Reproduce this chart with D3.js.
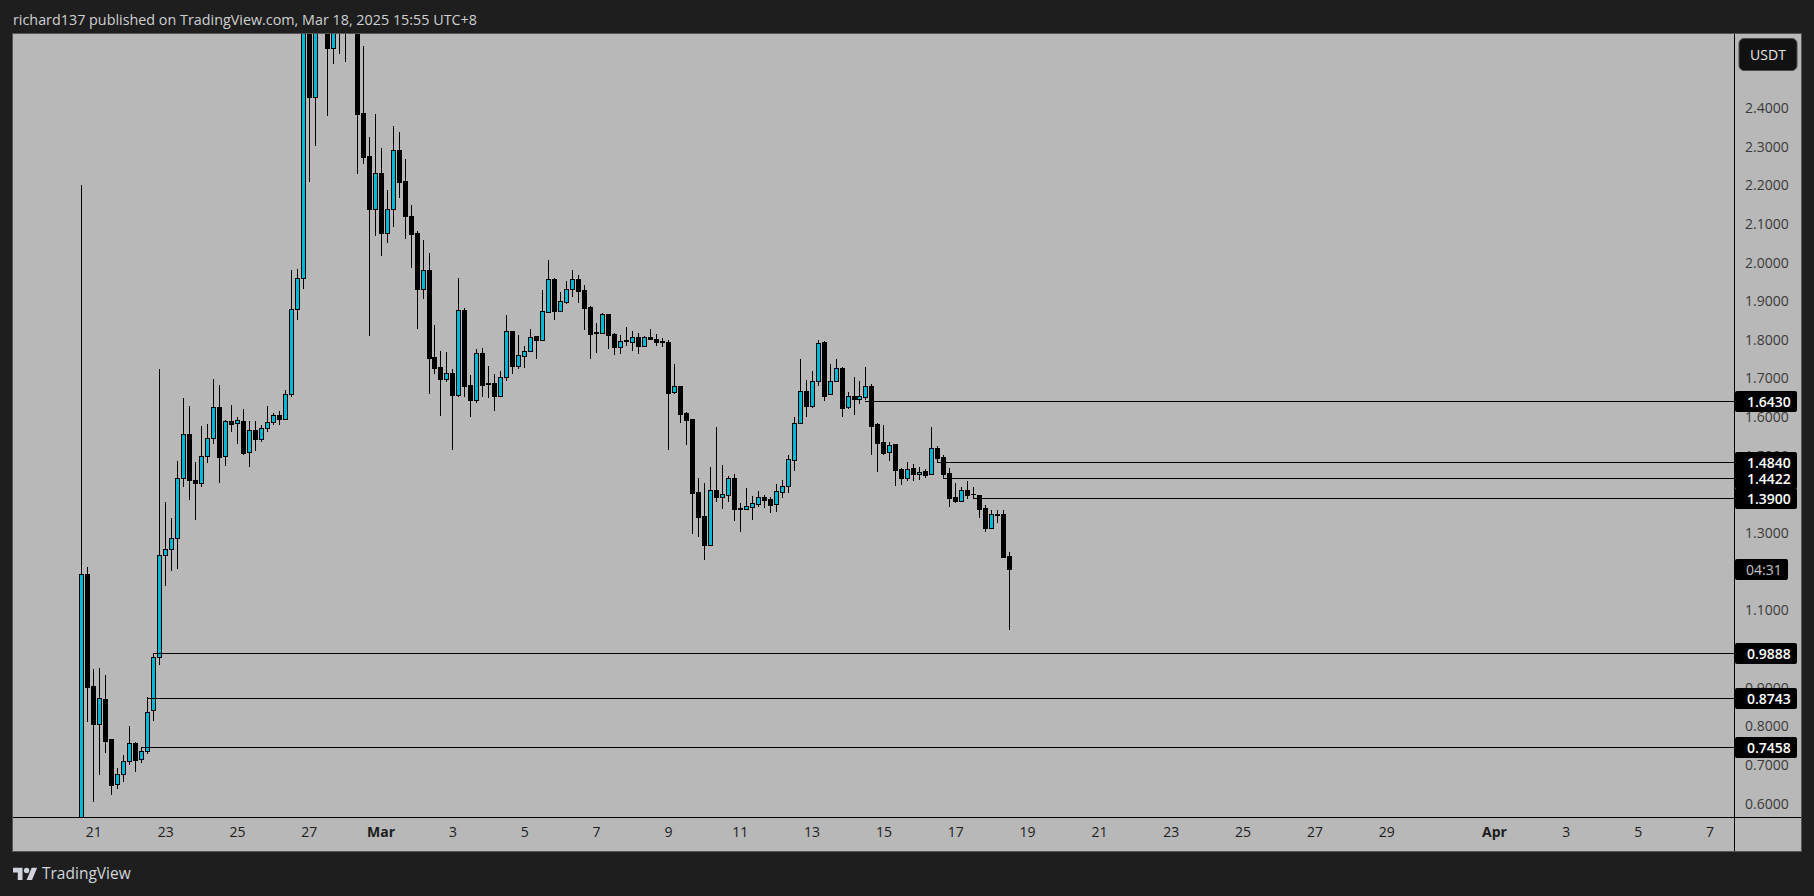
<!DOCTYPE html>
<html>
<head>
<meta charset="utf-8">
<script src="https://cdn.jsdelivr.net/npm/d3@7"></script>
<style>
  html, body { margin: 0; padding: 0; background: #1e1e1e; overflow: hidden; }
  text { font-family: "Open Sans", "Noto Sans", sans-serif; }
</style>
</head>
<body>
<div id="canvas"></div>
<script>
// 4h candles, first one opens Feb 20 16:00
const firstBar = Date.UTC(2025, 1, 20, 16);
const opens = [
  0.500,1.194,0.904,0.807,0.871,0.767,0.650,0.676,0.710,0.757,
  0.715,0.735,0.841,0.979,1.243,1.258,1.287,1.442,1.556,1.437,
  1.429,1.499,1.545,1.625,1.499,1.589,1.584,1.589,1.509,1.566,
  1.543,1.571,1.587,1.605,1.594,1.659,1.879,1.959,2.850,2.429,
  2.750,2.720,2.556,2.680,2.600,2.640,2.640,2.387,2.276,2.139,
  2.231,2.077,2.138,2.290,2.210,2.120,2.076,1.932,1.980,1.755,
  1.729,1.700,1.713,1.658,1.876,1.682,1.645,1.765,1.688,1.688,
  1.656,1.703,1.822,1.733,1.759,1.770,1.809,1.800,1.871,1.957,
  1.875,1.899,1.932,1.957,1.928,1.885,1.820,1.819,1.866,1.815,
  1.782,1.800,1.795,1.807,1.785,1.807,1.801,1.797,1.794,1.664,
  1.680,1.610,1.594,1.406,1.343,1.270,1.411,1.394,1.399,1.443,
  1.365,1.363,1.368,1.376,1.393,1.387,1.374,1.407,1.421,1.490,
  1.584,1.667,1.630,1.693,1.794,1.659,1.693,1.726,1.626,1.654,
  1.648,1.653,1.680,1.582,1.535,1.511,1.531,1.466,1.443,1.468,
  1.454,1.460,1.452,1.520,1.497,1.455,1.393,1.384,1.411,1.401,
  1.398,1.365,1.314,1.350,1.350,1.240
];
const highs = [
  2.201,1.212,0.948,0.951,0.933,0.767,0.692,0.726,0.801,0.760,
  0.746,0.875,0.989,1.724,1.381,1.338,1.487,1.650,1.629,1.484,
  1.577,1.582,1.699,1.683,1.593,1.631,1.600,1.621,1.589,1.589,
  1.579,1.629,1.610,1.615,1.670,1.981,1.983,2.900,2.950,2.720,
  2.950,2.750,2.680,2.700,2.660,2.700,2.660,2.560,2.325,2.384,
  2.296,2.188,2.353,2.338,2.268,2.148,2.082,2.058,2.025,1.838,
  1.770,1.769,1.724,1.960,1.882,1.709,1.776,1.779,1.732,1.712,
  1.719,1.864,1.823,1.813,1.783,1.828,1.809,1.929,2.007,1.959,
  1.924,1.952,1.981,1.967,1.941,1.888,1.844,1.870,1.867,1.817,
  1.812,1.833,1.823,1.818,1.810,1.828,1.815,1.804,1.799,1.738,
  1.680,1.613,1.594,1.443,1.430,1.471,1.574,1.476,1.447,1.453,
  1.377,1.417,1.396,1.409,1.398,1.393,1.427,1.437,1.502,1.600,
  1.750,1.696,1.719,1.800,1.796,1.738,1.750,1.729,1.665,1.704,
  1.694,1.730,1.686,1.584,1.580,1.535,1.531,1.468,1.483,1.479,
  1.471,1.465,1.574,1.525,1.502,1.468,1.430,1.419,1.435,1.419,
  1.399,1.372,1.359,1.360,1.359,1.251
];
const lows = [
  0.500,0.811,0.605,0.674,0.732,0.622,0.638,0.657,0.701,0.683,
  0.706,0.729,0.814,0.959,1.164,1.203,1.208,1.418,1.386,1.334,
  1.418,1.481,1.530,1.430,1.474,1.562,1.531,1.502,1.471,1.512,
  1.536,1.562,1.580,1.580,1.594,1.653,1.851,1.932,2.208,2.302,
  2.620,2.379,2.515,2.540,2.520,2.600,2.230,2.255,1.811,2.069,
  2.018,2.050,2.092,2.167,2.061,1.986,1.828,1.906,1.661,1.712,
  1.603,1.691,1.515,1.653,1.653,1.601,1.637,1.653,1.650,1.617,
  1.651,1.694,1.712,1.725,1.727,1.770,1.750,1.798,1.871,1.851,
  1.872,1.894,1.911,1.895,1.826,1.751,1.766,1.815,1.777,1.761,
  1.763,1.784,1.771,1.763,1.782,1.801,1.785,1.782,1.515,1.660,
  1.585,1.528,1.298,1.290,1.230,1.270,1.380,1.362,1.380,1.331,
  1.303,1.363,1.334,1.368,1.365,1.352,1.355,1.391,1.405,1.461,
  1.584,1.600,1.624,1.681,1.642,1.659,1.693,1.600,1.621,1.606,
  1.634,1.644,1.502,1.458,1.502,1.486,1.422,1.425,1.435,1.435,
  1.437,1.443,1.452,1.483,1.442,1.368,1.378,1.381,1.389,1.390,
  1.339,1.303,1.314,1.327,1.236,1.050
];
const closes = [
  1.194,0.903,0.807,0.873,0.763,0.649,0.676,0.710,0.756,0.713,
  0.735,0.838,0.979,1.243,1.258,1.287,1.442,1.556,1.437,1.429,
  1.499,1.545,1.625,1.498,1.589,1.583,1.592,1.508,1.566,1.544,
  1.571,1.587,1.605,1.594,1.659,1.879,1.959,2.850,2.429,2.650,
  2.650,2.556,2.650,2.620,2.640,2.660,2.385,2.274,2.139,2.231,
  2.077,2.138,2.290,2.209,2.121,2.075,1.932,1.980,1.754,1.728,
  1.700,1.713,1.657,1.876,1.681,1.645,1.765,1.684,1.687,1.656,
  1.703,1.822,1.733,1.760,1.770,1.808,1.800,1.874,1.957,1.875,
  1.900,1.932,1.957,1.927,1.882,1.816,1.819,1.866,1.813,1.782,
  1.798,1.798,1.807,1.784,1.807,1.801,1.795,1.795,1.663,1.680,
  1.609,1.593,1.405,1.342,1.270,1.411,1.394,1.400,1.442,1.362,
  1.363,1.369,1.377,1.393,1.386,1.373,1.408,1.421,1.491,1.584,
  1.667,1.630,1.693,1.791,1.656,1.693,1.726,1.624,1.654,1.648,
  1.654,1.680,1.578,1.533,1.507,1.527,1.463,1.443,1.465,1.454,
  1.459,1.450,1.519,1.494,1.454,1.392,1.383,1.411,1.399,1.400,
  1.362,1.313,1.349,1.348,1.238,1.208
];

// drawn levels: price and the bar each line starts from
const levelPrices = [1.6430, 1.4840, 1.4422, 1.3900, 0.9888, 0.8743, 0.7458];
const levelStartBars = [131, 143, 144, 149, 12, 11, 10];

// 1.0, 1.2 and 1.4 sit fully under the tags in the picture, so they are left out
const priceTicks = [0.6, 0.7, 0.8, 0.9, 1.1, 1.3, 1.5, 1.6, 1.7, 1.8, 1.9, 2.0, 2.1, 2.2, 2.3, 2.4];

const timeTickDates = [
  "2025-02-21", "2025-02-23", "2025-02-25", "2025-02-27", "2025-03-01", "2025-03-03", "2025-03-05", "2025-03-07",
  "2025-03-09", "2025-03-11", "2025-03-13", "2025-03-15", "2025-03-17", "2025-03-19", "2025-03-21", "2025-03-23",
  "2025-03-25", "2025-03-27", "2025-03-29", "2025-04-01", "2025-04-03", "2025-04-05", "2025-04-07"
];
const timeTickLabels = [
  "21", "23", "25", "27", "Mar", "3", "5", "7", "9", "11", "13", "15", "17", "19", "21", "23", "25", "27", "29",
  "Apr", "3", "5", "7"
];

const titleText = "richard137 published on TradingView.com, Mar 18, 2025 15:55 UTC+8";
const countdownText = "04:31";

const width = 1814, height = 896;
const plotLeft = 13, plotTop = 34, plotRight = 1734, plotBottom = 817, frameRight = 1801, frameBottom = 851;
const paneColor = "#b8b8b8", upColor = "#00b8d4";

const svg = d3.select("#canvas")
    .append("svg")
    .attr("width", width)
    .attr("height", height)
    .style("display", "block");

const barTime = i => new Date(firstBar + i * 4 * 3600 * 1000);

const x = d3.scaleUtc()
    .domain([new Date("2025-02-21T00:00Z"), new Date("2025-04-07T00:00Z")])
    .range([93.3, 1709.5]);

const y = d3.scaleLinear()
    .domain([2.5914, 0.5654])
    .range([plotTop, plotBottom]);

// pane and frame
svg.append("rect")
    .attr("x", plotLeft - 0.5)
    .attr("y", plotTop - 0.5)
    .attr("width", frameRight - plotLeft + 1)
    .attr("height", frameBottom - plotTop + 1)
    .attr("fill", paneColor)
    .attr("stroke", "#555555")
    .attr("stroke-width", 1);

svg.append("defs").append("clipPath")
    .attr("id", "plot-clip")
    .append("rect")
    .attr("x", plotLeft)
    .attr("y", plotTop)
    .attr("width", plotRight - plotLeft)
    .attr("height", plotBottom - plotTop);

const plot = svg.append("g")
    .attr("clip-path", "url(#plot-clip)")
    .attr("shape-rendering", "crispEdges");

// candles
const bars = d3.range(closes.length);

plot.selectAll(".wick")
    .data(bars)
    .join("rect")
    .attr("class", "wick")
    .attr("x", i => Math.round(x(barTime(i))))
    .attr("y", i => Math.round(y(highs[i])))
    .attr("width", 1)
    .attr("height", i => Math.max(1, Math.round(y(lows[i])) - Math.round(y(highs[i]))))
    .attr("fill", "#000");

const bodyTop = i => Math.round(y(Math.max(opens[i], closes[i])));
const bodyHeight = i => Math.round(y(Math.min(opens[i], closes[i]))) - bodyTop(i);

plot.selectAll(".body")
    .data(bars)
    .join("rect")
    .attr("class", "body")
    .attr("x", i => Math.round(x(barTime(i))) - 2)
    .attr("y", bodyTop)
    .attr("width", 5)
    .attr("height", i => Math.max(1, bodyHeight(i) + 1))
    .attr("fill", "#000");

plot.selectAll(".fill")
    .data(bars.filter(i => closes[i] > opens[i] && bodyHeight(i) >= 2))
    .join("rect")
    .attr("class", "fill")
    .attr("x", i => Math.round(x(barTime(i))) - 1)
    .attr("y", i => bodyTop(i) + 1)
    .attr("width", 3)
    .attr("height", i => bodyHeight(i) - 1)
    .attr("fill", upColor);

// level lines
plot.selectAll(".level")
    .data(levelPrices)
    .join("line")
    .attr("class", "level")
    .attr("x1", (d, i) => x(barTime(levelStartBars[i])))
    .attr("x2", plotRight)
    .attr("y1", d => Math.round(y(d)) + 0.5)
    .attr("y2", d => Math.round(y(d)) + 0.5)
    .attr("stroke", "#000")
    .attr("stroke-width", 1);

// price axis
const priceAxis = svg.append("g")
    .attr("transform", `translate(${plotRight},0)`)
    .call(d3.axisRight(y)
        .tickValues(priceTicks)
        .tickFormat(d3.format(".4f"))
        .tickSize(0)
        .tickPadding(11));

priceAxis.select(".domain").remove();
priceAxis.selectAll("text")
    .attr("fill", "#3a3a3a")
    .style("font-size", "14px");

// time axis
const timeAxis = svg.append("g")
    .attr("transform", `translate(0,${plotBottom})`)
    .call(d3.axisBottom(x)
        .tickValues(timeTickDates.map(d => new Date(d + "T00:00Z")))
        .tickFormat((d, i) => timeTickLabels[i])
        .tickSize(0)
        .tickPadding(10));

timeAxis.select(".domain").remove();
timeAxis.selectAll("text")
    .attr("fill", "#1c1c1c")
    .style("font-size", "14px")
    .style("font-weight", (d, i) => isNaN(timeTickLabels[i]) ? 700 : 400);

// pane separators
svg.append("line")
    .attr("x1", plotRight + 0.5).attr("x2", plotRight + 0.5)
    .attr("y1", plotTop).attr("y2", frameBottom)
    .attr("stroke", "#000");

svg.append("line")
    .attr("x1", plotLeft).attr("x2", frameRight)
    .attr("y1", plotBottom + 0.5).attr("y2", plotBottom + 0.5)
    .attr("stroke", "#000");

// price tags for the levels
const tags = svg.selectAll(".tag")
    .data(levelPrices)
    .join("g")
    .attr("class", "tag")
    .attr("transform", d => `translate(${plotRight + 1},${Math.round(y(d))})`);

tags.append("rect")
    .attr("y", -10)
    .attr("width", 62)
    .attr("height", 21)
    .attr("rx", 2)
    .attr("fill", "#000");

tags.append("text")
    .attr("x", 12)
    .attr("y", 5.5)
    .attr("fill", "#fff")
    .style("font-size", "14px")
    .style("font-weight", 600)
    .text(d3.format(".4f"));

// countdown tag at the last close
const countdown = svg.append("g")
    .attr("transform", `translate(${plotRight + 1},${Math.round(y(closes[closes.length - 1]))})`);

countdown.append("rect")
    .attr("y", -10)
    .attr("width", 53)
    .attr("height", 21)
    .attr("rx", 2)
    .attr("fill", "#000");

countdown.append("text")
    .attr("x", 11)
    .attr("y", 5.5)
    .attr("fill", "#c4c4c4")
    .style("font-size", "14px")
    .text(countdownText);

// currency button
svg.append("rect")
    .attr("x", 1739)
    .attr("y", 38.5)
    .attr("width", 58)
    .attr("height", 32)
    .attr("rx", 5)
    .attr("fill", "#111111")
    .attr("stroke", "#4a4a4a");

svg.append("text")
    .attr("x", 1768)
    .attr("y", 59.5)
    .attr("text-anchor", "middle")
    .attr("fill", "#e6e6e6")
    .style("font-size", "14px")
    .text("USDT");

// header
svg.append("text")
    .attr("x", 13)
    .attr("y", 24.5)
    .attr("fill", "#cfd0d2")
    .style("font-size", "14.35px")
    .text(titleText);

// logo
const logo = svg.append("g")
    .attr("transform", "translate(13,865) scale(0.68)")
    .attr("fill", "#d1d4dc");

logo.append("path")
    .attr("d", "M14 22H7V11H0V4h14v18zM28 22h-8l7.5-18h8L28 22z");

logo.append("circle")
    .attr("cx", 20)
    .attr("cy", 8)
    .attr("r", 4);

svg.append("text")
    .attr("x", 42)
    .attr("y", 879)
    .attr("fill", "#d1d4dc")
    .style("font-size", "15.5px")
    .text("TradingView");
</script>
</body>
</html>
